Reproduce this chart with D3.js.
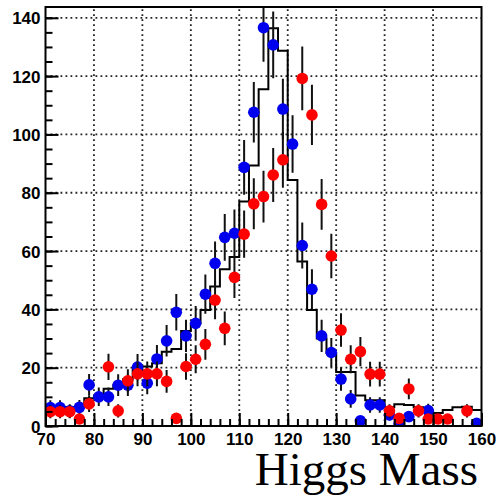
<!DOCTYPE html>
<html>
<head>
<meta charset="utf-8">
<script src="https://cdn.jsdelivr.net/npm/d3@7"></script>
<style>
  html, body { margin: 0; padding: 0; background: #fff; }
  svg { display: block; }
</style>
</head>
<body>
<svg id="chart" width="496" height="496"></svg>
<script>
// Bin centres of the mass spectrum (2 GeV bins from 70 to 160)
const binCenters = [71, 73, 75, 77, 79, 81, 83, 85, 87, 89, 91, 93, 95, 97, 99,
  101, 103, 105, 107, 109, 111, 113, 115, 117, 119, 121, 123, 125, 127, 129,
  131, 133, 135, 137, 139, 141, 143, 145, 147, 149, 151, 153, 155, 157, 159];

// Reference histogram (black step line)
const histCounts = [6.5, 6.5, 6.5, 6.5, 9.5, 10, 12.8, 14, 16, 19.5, 20.4, 21.5, 25.5, 26.4, 32.6,
  35.2, 39.8, 47.8, 53.8, 58, 77, 89.3, 115.5, 136.4, 128.7, 84.4, 56.4, 39.8, 30, 25,
  18.5, 18.5, 10.5, 8.8, 8.8, 6.4, 7.5, 7.2, 6.4, 5, 4.5, 5.5, 6.4, 6.6, 5.5];

// Blue data points (null = empty bin)
const blueCounts = [6.3, 6.3, 5.2, 6.4, 14.1, 10, 10, 14, 14, 20.2, 14.7, 23, 29.2, 39, 30.9,
  35.2, 45.2, 55.8, 64.7, 66.1, 88.7, 107.6, 136.6, 130.7, 108.7, 96.7, 61.9, 46.9, 30.9, 25.2,
  16.1, 9.3, 1.8, 7.2, 7.2, 3.8, 0.9, 3.2, null, 5.3, null, null, null, null, 0.9];

// Red data points (null = empty bin)
const redCounts = [4.9, 4.9, 4.9, 2.4, 7.6, null, 20.3, 5.2, 15.5, 17.9, 17.9, 17.9, 15.3, 2.6, 20.4,
  22.9, 28, 43.2, 33.5, 51, 65.8, 76.2, 78.7, 86.1, 91.3, null, 119.2, 106.7, 76, 58.3,
  32.9, 22.9, 25.5, 17.8, 17.8, 5.2, 2.6, 12.7, 5.2, 2.4, 2.4, 2.4, null, 5.2, null];

const xTicks = [70, 80, 90, 100, 110, 120, 130, 140, 150, 160];
const yTicks = [0, 20, 40, 60, 80, 100, 120, 140];
const xRange = [70, 160];
const yMax = 143.7;
const binWidth = 2;
const titleText = "Higgs Mass";

const svg = d3.select("#chart");
const frame = { left: 45.5, right: 481.5, top: 7, bottom: 426 };

const x = d3.scaleLinear().domain(xRange).range([frame.left, frame.right]);
const y = d3.scaleLinear().domain([0, yMax]).range([frame.bottom, frame.top]);

svg.append("rect").attr("width", 496).attr("height", 496).attr("fill", "#fff");

svg.append("clipPath").attr("id", "plotclip")
  .append("rect")
  .attr("x", frame.left).attr("y", frame.top)
  .attr("width", frame.right - frame.left).attr("height", frame.bottom - frame.top);

// Dotted grid
const grid = svg.append("g").attr("stroke", "#222").attr("stroke-width", 1.8)
  .attr("stroke-dasharray", "1.8,3.2");
grid.selectAll("line.gx").data(xTicks.filter(t => t > xRange[0] && t < xRange[1]))
  .join("line").attr("class", "gx")
  .attr("x1", d => x(d)).attr("x2", d => x(d))
  .attr("y1", frame.bottom).attr("y2", frame.top);
grid.selectAll("line.gy").data(yTicks.filter(t => t > 0))
  .join("line").attr("class", "gy")
  .attr("x1", frame.left).attr("x2", frame.right)
  .attr("y1", d => y(d)).attr("y2", d => y(d));

// Step histogram
const plot = svg.append("g").attr("clip-path", "url(#plotclip)");
let pathD = "";
binCenters.forEach((c, i) => {
  const x0 = x(c - binWidth / 2), x1 = x(c + binWidth / 2), yy = y(histCounts[i]);
  pathD += (i === 0 ? `M${x0},${yy}` : `L${x0},${yy}`) + `L${x1},${yy}`;
});
plot.append("path").attr("d", pathD).attr("fill", "none")
  .attr("stroke", "#000").attr("stroke-width", 2);

// Data points with Poisson error bars
function drawSeries(counts, color) {
  const pts = binCenters.map((c, i) => ({ c, v: counts[i] })).filter(d => d.v !== null);
  const g = plot.append("g");
  g.selectAll("line").data(pts).join("line")
    .attr("x1", d => x(d.c)).attr("x2", d => x(d.c))
    .attr("y1", d => y(d.v + Math.sqrt(d.v)))
    .attr("y2", d => y(Math.max(0, d.v - Math.sqrt(d.v))))
    .attr("stroke", "#111").attr("stroke-width", 2);
  g.selectAll("circle").data(pts).join("circle")
    .attr("cx", d => x(d.c)).attr("cy", d => y(d.v))
    .attr("r", 5.8).attr("fill", color);
}
drawSeries(blueCounts, "#0000ee");
drawSeries(redCounts, "#ff0000");

// Axes with ticks pointing into the frame
const xAxis = d3.axisBottom(x).tickValues(xTicks).tickSize(-13).tickPadding(14)
  .tickFormat(d3.format("d"));
const xMinor = d3.axisBottom(x).tickValues(d3.range(70, 161, 2)).tickSize(-7);
const yAxis = d3.axisLeft(y).tickValues(yTicks).tickSize(-13).tickPadding(17)
  .tickFormat(d3.format("d"));
const yMinor = d3.axisLeft(y).tickValues(d3.range(0, 141, 5)).tickSize(-7);

function styleAxis(g) {
  g.select(".domain").remove();
  g.selectAll(".tick line").attr("stroke", "#000").attr("stroke-width", 2);
  g.selectAll("text").attr("fill", "#000")
    .style("font-family", "'Liberation Sans', Arial, sans-serif")
    .style("font-weight", "bold").style("font-size", "17px");
}
function minorOnly(g) {
  g.select(".domain").remove();
  g.selectAll(".tick text").remove();
  g.selectAll(".tick line").attr("stroke", "#000").attr("stroke-width", 2);
}
svg.append("g").attr("transform", `translate(0,${frame.bottom})`).call(xMinor).call(minorOnly);
svg.append("g").attr("transform", `translate(0,${frame.bottom})`).call(xAxis).call(styleAxis)
  .selectAll("text").attr("dy", "0.3em");
svg.append("g").attr("transform", `translate(${frame.left},0)`).call(yMinor).call(minorOnly);
svg.append("g").attr("transform", `translate(${frame.left},0)`).call(yAxis).call(styleAxis)
  .selectAll("text").attr("x", -5).attr("dy", "0.36em");

// Frame
svg.append("rect")
  .attr("x", frame.left).attr("y", frame.top)
  .attr("width", frame.right - frame.left).attr("height", frame.bottom - frame.top)
  .attr("fill", "none").attr("stroke", "#000").attr("stroke-width", 2);

// Axis title
svg.append("text")
  .attr("x", 478).attr("y", 485)
  .attr("text-anchor", "end")
  .style("font-family", "'Liberation Serif', 'Times New Roman', serif")
  .style("font-size", "47px")
  .attr("fill", "#000")
  .text(titleText);
</script>
</body>
</html>
